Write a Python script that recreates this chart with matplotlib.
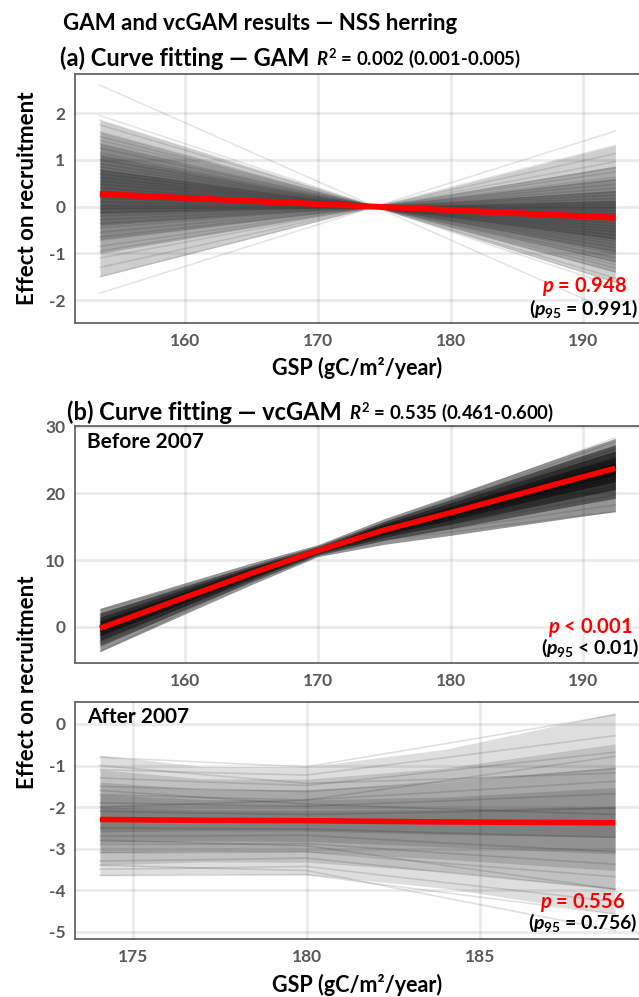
import numpy as np
import matplotlib
matplotlib.use("Agg")
import matplotlib.pyplot as plt

plt.rcParams['font.family'] = ['Lato', 'DejaVu Sans']
plt.rcParams['font.weight'] = 'bold'
plt.rcParams['axes.unicode_minus'] = False
plt.rcParams['mathtext.fontset'] = 'custom'
plt.rcParams['mathtext.it'] = 'Lato:italic:bold'
plt.rcParams['mathtext.rm'] = 'Lato:bold'
plt.rcParams['mathtext.bf'] = 'Lato:bold'

# ---------------- data ----------------
# Panel (a): GAM, straight lines through a pivot
gam_x_range = [153.6, 192.4]
gam_pivot = 174.3
gam_fit_left = 0.27                      # red fit value at left end
gam_left_effect = [2.6, 1.95, 1.85, 1.75, 1.6, 1.5, 1.42, 1.35, 1.25, 1.15, 1.1, 1.0,
                   0.92, 0.85, 0.78, 0.7, 0.62, 0.55, 0.48, 0.4, 0.33, 0.25, 0.18, 0.1,
                   0.03, -0.05, -0.12, -0.2, -0.28, -0.36, -0.45, -0.55, -0.65, -0.72,
                   -0.85, -0.95, -1.1, -1.3, -1.5, -1.85]
gam_band_hi = [1.85, 1.6, 1.35, 1.1, 0.8]     # left-end envelopes, outer -> inner
gam_band_lo = [-1.5, -1.0, -0.7, -0.4, -0.15]

# Panel (b): vcGAM before 2007
pre_x = [153.6, 160, 165, 170, 175, 180, 185, 190, 192.4]
pre_fit = [-0.25, 4.4, 8.0, 11.4, 14.5, 17.1, 19.8, 22.5, 23.75]
pre_env_x = [153.6, 170, 192.4]
pre_band_hi = [[3.0, 0.9, 4.5], [2.3, 0.7, 3.5], [1.7, 0.5, 2.6], [1.1, 0.35, 1.7], [0.5, 0.2, 0.8]]
pre_band_lo = [[-3.5, -0.9, -6.5], [-2.6, -0.7, -4.5], [-1.8, -0.5, -3.2], [-1.1, -0.35, -2.0], [-0.5, -0.2, -1.0]]
pre_dev_left = [2.7, 2.2, 1.8, 1.5, 1.2, 0.9, 0.6, 0.3, 0.0, -0.3, -0.6, -0.9, -1.2,
                -1.5, -1.9, -2.3, -2.8, -3.5, 1.0, -1.0, 0.5, -0.5, 2.0, -2.0]
pre_dev_right = [-3.0, -2.6, -2.0, -1.6, -1.2, -0.8, -0.5, -0.2, 0.2, 0.6, 1.0, 1.4,
                 1.8, 2.3, 2.8, 3.4, 4.0, 4.6, -5.5, -6.5, -4.0, 3.0, 1.0, -1.5]

# Panel (c): vcGAM after 2007
post_x = [174.04, 177, 180, 184, 188.9]
post_fit = [-2.30, -2.32, -2.33, -2.36, -2.38]
post_band_hi = [[1.55, 1.3, 1.3, 1.75, 2.65], [1.2, 1.0, 1.0, 1.3, 1.9],
                [0.9, 0.75, 0.75, 0.95, 1.35], [0.6, 0.5, 0.5, 0.6, 0.85],
                [0.3, 0.25, 0.25, 0.3, 0.4]]
post_band_lo = [[-1.35, -1.3, -1.3, -1.6, -2.2], [-1.1, -1.0, -1.0, -1.2, -1.6],
                [-0.8, -0.75, -0.75, -0.9, -1.15], [-0.55, -0.5, -0.5, -0.6, -0.75],
                [-0.3, -0.25, -0.25, -0.3, -0.35]]
post_line_x = [174.04, 180, 188.9]
post_dev_left = [1.5, 1.2, 1.0, 0.8, 0.6, 0.4, 0.2, 0.0, -0.2, -0.4, -0.6, -0.8, -1.0,
                 -1.2, -1.35, 1.3, -1.1, 0.7, -0.5, 0.3]
post_dev_mid = [1.3, 1.1, 0.85, 0.7, 0.5, 0.35, 0.15, 0.0, -0.2, -0.35, -0.55, -0.75,
                -0.9, -1.1, -1.3, 0.9, -1.2, 0.4, -0.6, 0.5]
post_dev_right = [2.6, 2.1, 1.7, 1.3, 1.0, 0.7, 0.35, 0.0, -0.35, -0.7, -1.0, -1.3,
                  -1.6, -1.9, -2.2, 1.2, -2.6, 0.2, -1.6, 1.6]

xticks_ab = [160, 170, 180, 190]
yticks_a = [-2, -1, 0, 1, 2]
yticks_b = [0, 10, 20, 30]
xticks_c = [175, 180, 185]
yticks_c = [0, -1, -2, -3, -4, -5]

title_main = "GAM and vcGAM results — NSS herring"
title_a = "(a) Curve fitting — GAM"
r2_a = "$R^2$ = 0.002 (0.001-0.005)"
title_b = "(b) Curve fitting — vcGAM"
r2_b = "$R^2$ = 0.535 (0.461-0.600)"
ylab = "Effect on recruitment"
xlab = "GSP (gC/m²/year)"

# ---------------- figure ----------------
W, H = 639, 997
fig = plt.figure(figsize=(W / 100, H / 100), dpi=100)

def ax_at(left, top, right, bottom):
    return fig.add_axes([left / W, 1 - bottom / H, (right - left) / W, (bottom - top) / H])

axa = ax_at(75, 74, 639, 323)
axb = ax_at(75, 426, 639, 663)
axc = ax_at(75, 702, 639, 939)

TICKC = '#595959'

def style(ax, xt, yt, xl, yl):
    ax.set_xlim(*xl)
    ax.set_ylim(*yl)
    ax.set_xticks(xt)
    ax.set_yticks(yt)
    ax.grid(True, color='black', alpha=0.08, lw=2.0, zorder=5)
    ax.set_axisbelow(False)
    ax.tick_params(length=0, labelsize=12.5, labelcolor=TICKC, pad=7)
    for lab in ax.get_xticklabels() + ax.get_yticklabels():
        lab.set_fontweight('bold')
    for s in ['left', 'top', 'bottom']:
        ax.spines[s].set_color('#666666')
        ax.spines[s].set_linewidth(1.3)
    ax.spines['right'].set_visible(False)

# ---- panel (a)
x0, x1 = gam_x_range
xa = np.array([x0, gam_pivot, x1])
fa = (xa - gam_pivot) / (x0 - gam_pivot)
for lo, hi in zip(gam_band_lo, gam_band_hi):
    y1 = lo * fa
    y2 = hi * fa
    axa.fill_between(xa, np.minimum(y1, y2), np.maximum(y1, y2), color='black',
                     alpha=0.19, lw=0, zorder=2)
for v in gam_left_effect:
    axa.plot(xa, v * fa, color='black', alpha=0.10, lw=1.2, zorder=3)
axa.plot(xa, gam_fit_left * fa, color='#ff0000', lw=4.3, zorder=10, solid_capstyle='butt')
style(axa, xticks_ab, yticks_a, (151.72, 194.18), (-2.49, 2.84))

# ---- panel (b)
pre_x_arr = np.array(pre_x)
pre_fit_arr = np.array(pre_fit)
for hi, lo in zip(pre_band_hi, pre_band_lo):
    axb.fill_between(pre_x_arr, pre_fit_arr + np.interp(pre_x_arr, pre_env_x, lo),
                     pre_fit_arr + np.interp(pre_x_arr, pre_env_x, hi),
                     color='black', alpha=0.42, lw=0, zorder=2)
for dl, dr in zip(pre_dev_left, pre_dev_right):
    dev = np.interp(pre_x_arr, pre_env_x, [dl, 0.0, dr])
    axb.plot(pre_x_arr, pre_fit_arr + dev, color='black', alpha=0.10, lw=1.2, zorder=3)
axb.plot(pre_x_arr, pre_fit_arr, color='#ff0000', lw=4.0, zorder=10, solid_capstyle='butt')
style(axb, xticks_ab, yticks_b, (151.72, 194.18), (-5.45, 30.1))

# ---- panel (c)
post_x_arr = np.array(post_x)
post_fit_arr = np.array(post_fit)
for hi, lo in zip(post_band_hi, post_band_lo):
    axc.fill_between(post_x_arr, post_fit_arr + np.array(lo), post_fit_arr + np.array(hi),
                     color='black', alpha=0.13, lw=0, zorder=2)
for dl, dm, dr in zip(post_dev_left, post_dev_mid, post_dev_right):
    dev = np.interp(post_x_arr, post_line_x, [dl, dm, dr])
    axc.plot(post_x_arr, post_fit_arr + dev, color='black', alpha=0.12, lw=1.2, zorder=3)
axc.plot(post_x_arr, post_fit_arr, color='#ff0000', lw=4.0, zorder=10, solid_capstyle='butt')
style(axc, xticks_c, yticks_c, (173.32, 189.59), (-5.18, 0.53))

# ---- inner labels
axb.text(12 / 564, 1 - 16 / 237, "Before 2007", transform=axb.transAxes, fontsize=15,
         fontweight='bold', va='center', ha='left', zorder=20)
axc.text(12 / 564, 1 - 15 / 237, "After 2007", transform=axc.transAxes, fontsize=15,
         fontweight='bold', va='center', ha='left', zorder=20)

def ptext(ax, xc, y1, y2, t1, t2, top, bottom):
    h = bottom - top
    ax.text((xc - 75) / 564, (bottom - y1) / h, t1, transform=ax.transAxes, color='#ff0000',
            fontsize=14.5, fontweight='bold', ha='center', va='center', zorder=20)
    ax.text((xc - 75) / 564, (bottom - y2) / h, t2, transform=ax.transAxes, color='black',
            fontsize=14, fontweight='bold', ha='center', va='center', zorder=20)

ptext(axa, 584, 287, 309, "$p$ = 0.948", "($p_{\\mathit{95}}$ = 0.991)", 74, 323)
ptext(axb, 590, 627, 648, "$p$ < 0.001", "($p_{\\mathit{95}}$ < 0.01)", 426, 663)
ptext(axc, 583, 902, 923, "$p$ = 0.556", "($p_{\\mathit{95}}$ = 0.756)", 702, 939)

# ---- axis labels
fig.text(28 / W, 1 - 198 / H, ylab, rotation=90, fontsize=16, fontweight='bold',
         ha='center', va='center')
fig.text(28 / W, 1 - 682 / H, ylab, rotation=90, fontsize=16, fontweight='bold',
         ha='center', va='center')
fig.text(357 / W, 1 - 368 / H, xlab, fontsize=15.5, fontweight='bold', ha='center', va='center')
fig.text(357 / W, 1 - 985 / H, xlab, fontsize=15.5, fontweight='bold', ha='center', va='center')

# ---- titles
fig.text(260 / W, 1 - 23 / H, title_main, fontsize=16, fontweight='bold',
         ha='center', va='center')

fig.canvas.draw()
renderer = fig.canvas.get_renderer()

def two_part(x_left, yc, t1, t2):
    a = fig.text(x_left / W, 1 - yc / H, t1, fontsize=17, fontweight='bold',
                 ha='left', va='center')
    bb = a.get_window_extent(renderer=renderer)
    fig.text((bb.x1 + 7) / W, 1 - yc / H, t2, fontsize=13.3, fontweight='bold',
             ha='left', va='center')

two_part(60, 58, title_a, r2_a)
two_part(67, 412, title_b, r2_b)

fig.savefig("out.png", dpi=100)
